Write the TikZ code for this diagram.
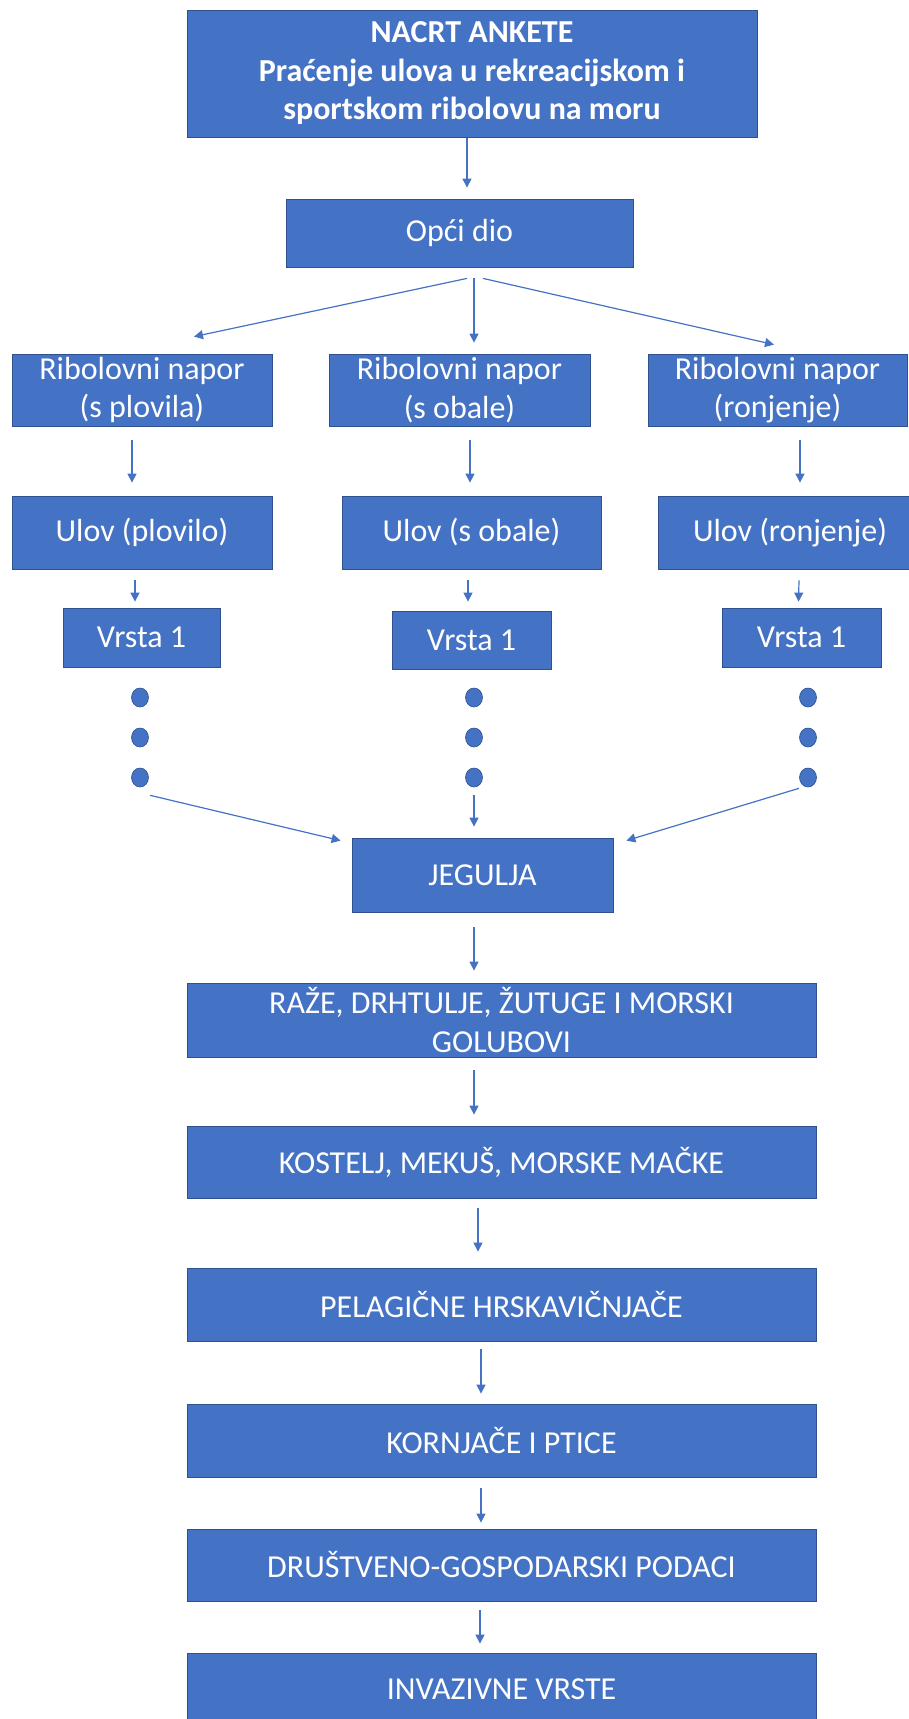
\documentclass[tikz,border=0pt]{standalone}
\usepackage{fontspec}
\setmainfont{Carlito}
\usepackage{tikz}
\usetikzlibrary{arrows.meta,shapes.geometric}
\definecolor{boxblue}{HTML}{4472C4}
\definecolor{rimblue}{HTML}{2F528F}
\tikzstyle{box}=[draw=rimblue, line width=0.8pt, fill=boxblue, text=white, inner sep=0pt, align=center, font=\fontsize{32}{38.5}\selectfont]
\tikzstyle{headbox}=[box, font=\fontsize{32}{38.5}\selectfont\bfseries]
\tikzstyle{arr}=[draw=boxblue, line width=1.2pt, -{Triangle[length=9pt,width=9pt]}]
\tikzstyle{dot}=[ellipse, fill=boxblue, draw=rimblue, line width=0.6pt, minimum width=17pt, minimum height=19pt, inner sep=0pt]

\begin{document}
\begin{tikzpicture}[x=1pt, y=1pt]

\useasboundingbox (0,0) rectangle (909,-1719);
\fill[white] (0,0) rectangle (909,-1719);

\node[headbox, minimum width=570pt, minimum height=127pt] (title) at (472,-73.5) {NACRT ANKETE\\Praćenje ulova u rekreacijskom i\\sportskom ribolovu na moru};
\node[box, minimum width=347pt, minimum height=68pt] (opci) at (459.5,-233) {Opći dio};

\node[box, minimum width=260pt, minimum height=72pt] (nap1) at (142,-390) {Ribolovni napor\\(s plovila)};
\node[box, minimum width=261pt, minimum height=72pt] (nap2) at (459.5,-390) {Ribolovni napor\\(s obale)};
\node[box, minimum width=259pt, minimum height=72pt] (nap3) at (777.5,-390) {Ribolovni napor\\(ronjenje)};

\node[box, minimum width=260pt, minimum height=73pt] (ulov1) at (142,-532.5) {Ulov (plovilo)};
\node[box, minimum width=259pt, minimum height=73pt] (ulov2) at (471.5,-532.5) {Ulov (s obale)};
\node[box, minimum width=264pt, minimum height=73pt] (ulov3) at (790,-532.5) {Ulov (ronjenje)};

\node[box, minimum width=157pt, minimum height=59pt] (vrsta1) at (141.5,-637.5) {Vrsta 1};
\node[box, minimum width=159pt, minimum height=58pt] (vrsta2) at (471.5,-640) {Vrsta 1};
\node[box, minimum width=159pt, minimum height=59pt] (vrsta3) at (801.5,-637.5) {Vrsta 1};

\node[dot] (d11) at (140,-697.5) {};
\node[dot] (d12) at (140,-737.5) {};
\node[dot] (d13) at (140,-777.5) {};
\node[dot] (d21) at (474,-697.5) {};
\node[dot] (d22) at (474,-737.5) {};
\node[dot] (d23) at (474,-777.5) {};
\node[dot] (d31) at (808,-697.5) {};
\node[dot] (d32) at (808,-737.5) {};
\node[dot] (d33) at (808,-777.5) {};

\node[box, minimum width=261pt, minimum height=74pt] (jegulja) at (482.5,-875) {JEGULJA};
\node[box, minimum width=629pt, minimum height=74pt] (raze) at (501.5,-1020) {RAŽE, DRHTULJE, ŽUTUGE I MORSKI\\GOLUBOVI};
\node[box, minimum width=629pt, minimum height=72pt] (kostelj) at (501.5,-1162) {KOSTELJ, MEKUŠ, MORSKE MAČKE};
\node[box, minimum width=629pt, minimum height=73pt] (pelag) at (501.5,-1304.5) {PELAGIČNE HRSKAVIČNJAČE};
\node[box, minimum width=629pt, minimum height=73pt] (kornj) at (501.5,-1440.5) {KORNJAČE I PTICE};
\node[box, minimum width=629pt, minimum height=72pt] (drustv) at (501.5,-1565) {DRUŠTVENO-GOSPODARSKI PODACI};
\node[box, minimum width=629pt, minimum height=73pt] (invaz) at (501.5,-1689.5) {INVAZIVNE VRSTE};

\draw[arr] ([xshift=-5pt,yshift=-1pt]title.south) -- ([xshift=7.5pt,yshift=11pt]opci.north);

\draw[arr] ([xshift=7.5pt,yshift=-11pt]opci.south) -- ([xshift=52pt,yshift=17pt]nap1.north);
\draw[arr] ([xshift=14.5pt,yshift=-11pt]opci.south) -- ([xshift=14.5pt,yshift=11pt]nap2.north);
\draw[arr] ([xshift=23.5pt,yshift=-11pt]opci.south) -- ([xshift=-3.5pt,yshift=9pt]nap3.north);

\draw[arr] ([xshift=-10pt,yshift=-14pt]nap1.south) -- ([xshift=-10pt,yshift=13pt]ulov1.north);
\draw[arr] ([xshift=10.5pt,yshift=-14pt]nap2.south) -- ([xshift=-1.5pt,yshift=13pt]ulov2.north);
\draw[arr] ([xshift=22.5pt,yshift=-14pt]nap3.south) -- ([xshift=10pt,yshift=13pt]ulov3.north);

\draw[arr] ([xshift=-7pt,yshift=-11pt]ulov1.south) -- ([xshift=-6.5pt,yshift=6pt]vrsta1.north);
\draw[arr] ([xshift=-3.5pt,yshift=-11pt]ulov2.south) -- ([xshift=-3.5pt,yshift=9pt]vrsta2.north);
\draw[arr] ([xshift=9pt,yshift=-11pt]ulov3.south) -- ([xshift=-3pt,yshift=6pt]vrsta3.north);

\draw[arr] ([xshift=10pt,yshift=-8pt]d13.south) -- ([xshift=-11pt,yshift=-3pt]jegulja.north west);
\draw[arr] ([yshift=-8pt]d23.south) -- ([xshift=-8.5pt,yshift=11pt]jegulja.north);
\draw[arr] ([xshift=-9pt,yshift=-1pt]d33.south) -- ([xshift=13pt,yshift=-3pt]jegulja.north east);

\draw[arr] ([xshift=-8.5pt,yshift=-15pt]jegulja.south) -- ([xshift=-27.5pt,yshift=12pt]raze.north);
\draw[arr] ([xshift=-27.5pt,yshift=-13pt]raze.south) -- ([xshift=-27.5pt,yshift=11pt]kostelj.north);
\draw[arr] ([xshift=-23.5pt,yshift=-10pt]kostelj.south) -- ([xshift=-23.5pt,yshift=16pt]pelag.north);
\draw[arr] ([xshift=-20.5pt,yshift=-8pt]pelag.south) -- ([xshift=-20.5pt,yshift=10pt]kornj.north);
\draw[arr] ([xshift=-20.5pt,yshift=-11pt]kornj.south) -- ([xshift=-20.5pt,yshift=6pt]drustv.north);
\draw[arr] ([xshift=-21.5pt,yshift=-9pt]drustv.south) -- ([xshift=-21.5pt,yshift=9pt]invaz.north);

\end{tikzpicture}
\end{document}
